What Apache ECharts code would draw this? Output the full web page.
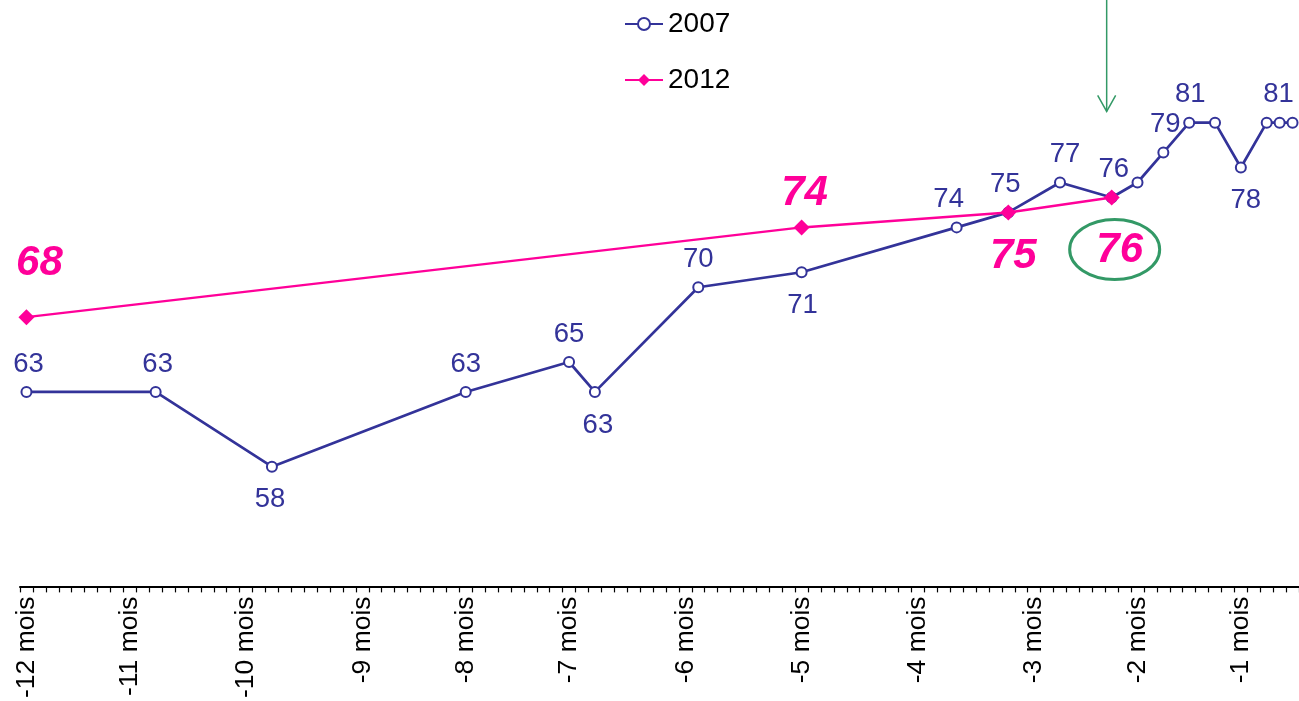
<!DOCTYPE html>
<html>
<head>
<meta charset="utf-8">
<script src="https://cdn.jsdelivr.net/npm/echarts@6/dist/echarts.min.js"></script>
<style>
html, body { margin: 0; padding: 0; background: #fff; }
#main { width: 1299px; height: 701px; }
</style>
</head>
<body>
<div id="main"></div>
<script>
// axe horizontal : 99 pas, libelles des mois
var nbPas = 99;
var moisLabels = ['-12 mois', '-11 mois', '-10 mois', '-9 mois', '-8 mois', '-7 mois',
    '-6 mois', '-5 mois', '-4 mois', '-3 mois', '-2 mois', '-1 mois'];
var moisPas = [0, 8, 17, 26, 34, 42, 51, 60, 69, 78, 86, 94];

// 2007
var pas2007 = [0, 10, 19, 34, 42, 44, 52, 60, 72, 76, 80, 84, 86, 88, 90, 92, 94, 96, 97, 98];
var val2007 = [63, 63, 58, 63, 65, 63, 70, 71, 74, 75, 77, 76, 77, 79, 81, 81, 78, 81, 81, 81];

// 2012
var pas2012 = [0, 60, 76, 84];
var val2012 = [68, 74, 75, 76];

var police = "'Liberation Sans', Arial, sans-serif";
var bleu = '#333399', rose = '#FF0099', vert = '#339966';

// placement des etiquettes ('' = pas d'etiquette)
var cote2007 = ['top', 'top', 'bottom', 'top', 'top', 'bottom', 'top', 'bottom', 'top', 'top',
    'top', 'top', '', 'top', 'top', '', 'bottom', '', 'top', ''];
var dx2007 = [2, 2, -2, 0, 0, 3, 0, 1, -8, -3, 5, 2, 0, 2, 1, 0, 5, 0, -1, 0];
var etiq2012 = [
    {position: 'top', distance: 25, offset: [13, 0]},
    {position: 'top', distance: 5, offset: [3, 0]},
    {position: 'bottom', distance: 15, offset: [5, 0]},
    {position: 'bottom', distance: 24, offset: [8, 0]}
];

var categories = [];
for (var i = 0; i < nbPas; i++) categories.push('');
moisPas.forEach(function (p, k) { categories[p] = moisLabels[k]; });

var data2007 = pas2007.map(function (p, k) {
    var c = cote2007[k];
    return {
        value: [p, val2007[k]],
        label: c ? {show: true, position: c, distance: c === 'top' ? 8 : 13, offset: [dx2007[k], 0]} : {show: false}
    };
});
var data2012 = pas2012.map(function (p, k) {
    return {value: [p, val2012[k]], label: etiq2012[k]};
});

var chart = echarts.init(document.getElementById('main'));
chart.setOption({
    animation: false,
    textStyle: {fontFamily: police},
    legend: {
        orient: 'vertical',
        left: 619,
        top: 5,
        itemWidth: 38,
        itemHeight: 15,
        itemGap: 28,
        textStyle: {fontSize: 28, color: '#000', fontFamily: police},
        data: ['2007', '2012']
    },
    grid: {left: 20, width: 1281, top: 3, height: 585, containLabel: false},
    xAxis: {
        type: 'category',
        data: categories,
        boundaryGap: true,
        axisLine: {lineStyle: {color: '#000', width: 2}},
        axisTick: {show: true, interval: 0, length: 6, lineStyle: {color: '#000', width: 1.2}},
        axisLabel: {interval: 0, rotate: 90, margin: 10, fontSize: 26.5, color: '#000', fontFamily: police}
    },
    yAxis: {
        type: 'value',
        min: 50,
        max: 89,
        show: false,
        splitLine: {show: false}
    },
    series: [{
        name: '2007',
        type: 'line',
        data: data2007,
        symbol: 'emptyCircle',
        symbolSize: 10,
        itemStyle: {color: bleu, borderWidth: 1.5},
        lineStyle: {color: bleu, width: 2.7},
        label: {color: bleu, fontSize: 27.5, fontFamily: police},
        z: 2
    }, {
        name: '2012',
        type: 'line',
        data: data2012,
        symbol: 'diamond',
        symbolSize: 16,
        itemStyle: {color: rose},
        lineStyle: {color: rose, width: 2.5},
        label: {show: true, color: rose, fontSize: 42, fontWeight: 'bold', fontStyle: 'italic', fontFamily: police},
        z: 3
    }]
});

// ellipse verte et fleche autour du dernier point 2012
var p = chart.convertToPixel({seriesIndex: 1}, [pas2012[3], val2012[3]]);
chart.setOption({
    graphic: [{
        type: 'ellipse',
        shape: {cx: p[0] + 3, cy: p[1] + 52, rx: 45, ry: 30},
        style: {fill: null, stroke: vert, lineWidth: 3}
    }, {
        type: 'polyline',
        shape: {points: [[p[0] - 5, 0], [p[0] - 5, p[1] - 86]]},
        style: {stroke: vert, lineWidth: 1.5, fill: null}
    }, {
        type: 'polyline',
        shape: {points: [[p[0] - 14, p[1] - 102], [p[0] - 5, p[1] - 86], [p[0] + 4, p[1] - 102]]},
        style: {stroke: vert, lineWidth: 1.5, fill: null}
    }]
});
</script>
</body>
</html>
